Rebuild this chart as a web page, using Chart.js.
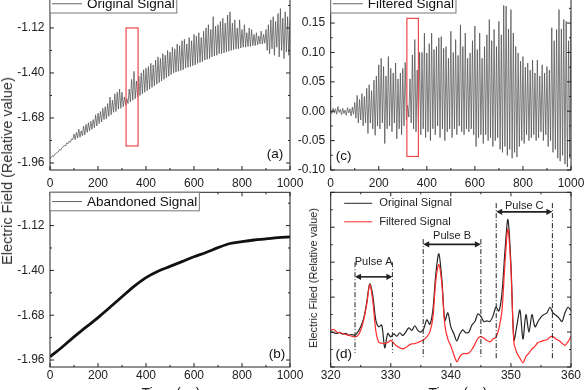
<!DOCTYPE html>
<html>
<head>
<meta charset="utf-8">
<script src="https://cdn.jsdelivr.net/npm/chart.js@4.4.0/dist/chart.umd.min.js"></script>
<style>
  body { margin: 0; background: #fff; }
  #wrap { position: relative; width: 585px; height: 390px; overflow: hidden; background: #fff;
          font-family: "Liberation Sans", Arial, sans-serif; color: #222; }
  #wrap canvas { position: absolute; }
  .ttl { position: absolute; white-space: nowrap; font-weight: 400; transform: translate(-50%, -50%); }
  .rot { transform: translate(-50%, -50%) rotate(-90deg); }
</style>
</head>
<body>
<div id="wrap">
  <canvas id="panelA" width="320" height="220" style="left:0;top:-30px"></canvas>
  <canvas id="panelC" width="345" height="220" style="left:260px;top:-30px"></canvas>
  <canvas id="panelB" width="320" height="220" style="left:0;top:170px"></canvas>
  <canvas id="panelD" width="345" height="220" style="left:260px;top:170px"></canvas>
  <div class="ttl rot" style="left:7px;top:171px;font-size:14.5px;color:#333">Electric Field (Relative value)</div>
  <div class="ttl rot" style="left:313px;top:278px;font-size:10.8px">Electric Filed (Relative value)</div>
  <div class="ttl" style="left:171px;top:393px;font-size:14px">Time (μs)</div>
  <div class="ttl" style="left:458px;top:393px;font-size:14px">Time (μs)</div>
</div>
<script>
document.addEventListener("DOMContentLoaded", () => {
    // sampling of the long records (a) and (c): one value every 5 µs, 0..1000
    const longStep = 5
    // sampling of the zoomed record (d): one value every 0.5 µs, 320..360
    const zoomStep = 0.5

    // (a) original signal
    const origSignal = [
        -1.93, -1.925, -1.915, -1.92, -1.905, -1.90, -1.895, -1.89, -1.875, -1.88,
        -1.865, -1.86, -1.85, -1.855, -1.835, -1.84, -1.825, -1.83, -1.81, -1.815, -1.78,
        -1.815, -1.77, -1.805, -1.75, -1.80, -1.76, -1.79, -1.73, -1.785, -1.72, -1.77, -1.71, -1.76, -1.70, -1.75, -1.69, -1.74, -1.66, -1.73, -1.65,
        -1.715, -1.64, -1.705, -1.62, -1.69, -1.61, -1.685, -1.59, -1.67, -1.55, -1.66, -1.57, -1.645, -1.53, -1.64, -1.52, -1.625, -1.50, -1.62, -1.52,
        -1.61, -1.55, -1.60, -1.56, -1.59, -1.50, -1.58, -1.44, -1.57, -1.39, -1.56, -1.45, -1.55, -1.42, -1.54, -1.40, -1.53, -1.38, -1.52, -1.37,
        -1.51, -1.36, -1.50, -1.34, -1.49, -1.35, -1.48, -1.32, -1.47, -1.30, -1.46, -1.31, -1.45, -1.28, -1.44, -1.29, -1.43, -1.26, -1.42, -1.27,
        -1.41, -1.24, -1.40, -1.25, -1.395, -1.22, -1.39, -1.23, -1.385, -1.20, -1.38, -1.19, -1.37, -1.22, -1.365, -1.18, -1.36, -1.20, -1.355, -1.16,
        -1.35, -1.17, -1.34, -1.15, -1.335, -1.18, -1.33, -1.14, -1.32, -1.12, -1.315, -1.10, -1.31, -1.13, -1.30, -1.05, -1.295, -1.11, -1.29, -1.10,
        -1.28, -1.08, -1.28, -1.06, -1.275, -1.09, -1.27, -1.04, -1.265, -1.02, -1.26, -1.09, -1.255, -1.07, -1.25, -1.12, -1.25, -1.07, -1.245, -1.13,
        -1.24, -1.10, -1.24, -1.15, -1.235, -1.12, -1.235, -1.13, -1.23, -1.16, -1.23, -1.15, -1.225, -1.17, -1.22, -1.14, -1.22, -1.16, -1.215, -1.13,
        -1.26, -1.10, -1.28, -1.07, -1.25, -1.05, -1.29, -1.08, -1.24, -1.03, -1.30, -1.00, -1.26, -1.06, -1.31, -1.02, -1.27, -1.05, -1.29, -1.07
    ]

    // (c) filtered signal
    const filtSignal = [
        0.002, -0.004, 0.005, -0.003, 0.004, -0.005, 0.008, -0.002, 0.003, -0.006,
        0.005, -0.004, 0.002, -0.007, 0.006, -0.003, 0.004, -0.008, 0.007, -0.005,
        0.015, -0.012, 0.027, -0.02, 0.02, -0.015, 0.03, -0.025, 0.025, -0.02, 0.039, -0.038, 0.045, -0.02, 0.035, -0.03, 0.053, -0.041, 0.06, -0.025,
        0.079, -0.03, 0.09, -0.02, 0.076, -0.055, 0.06, -0.03, 0.093, -0.025, 0.073, -0.035, 0.065, -0.02, 0.082, -0.047, 0.055, -0.03, 0.065, -0.04,
        0.073, -0.025, 0.083, -0.015, 0.01, -0.01, 0.055, -0.02, 0.096, -0.03, 0.122, -0.035, 0.07, -0.02, 0.1, -0.04, 0.1, -0.03, 0.133, -0.045,
        0.099, -0.035, 0.115, -0.05, 0.133, -0.03, 0.105, -0.04, 0.11, -0.025, 0.125, -0.045, 0.127, -0.03, 0.107, -0.05, 0.11, -0.035, 0.09, -0.03,
        0.136, -0.045, 0.1, -0.03, 0.122, -0.04, 0.095, -0.025, 0.147, -0.035, 0.11, -0.04, 0.133, -0.03, 0.09, -0.035, 0.099, -0.03, 0.12, -0.04,
        0.145, -0.06, 0.105, -0.045, 0.133, -0.04, 0.09, -0.055, 0.11, -0.04, 0.13, -0.05, 0.156, -0.045, 0.12, -0.06, 0.139, -0.05, 0.11, -0.045,
        0.153, -0.065, 0.13, -0.07, 0.18, -0.06, 0.179, -0.075, 0.14, -0.065, 0.173, -0.08, 0.133, -0.07, 0.11, -0.078, 0.099, -0.06, 0.085, -0.05,
        0.093, -0.055, 0.075, -0.04, 0.082, -0.05, 0.07, -0.045, 0.087, -0.04, 0.065, -0.05, 0.087, -0.045, 0.06, -0.035, 0.079, -0.05, 0.065, -0.04,
        0.076, -0.06, 0.07, -0.05, 0.142, -0.07, 0.12, -0.065, 0.139, -0.08, 0.173, -0.085, 0.14, -0.075, 0.156, -0.09, 0.153, -0.095, 0.12, -0.08,
        0.17
    ]

    // (b) abandoned (baseline) signal
    const abandonTimes = [0, 50, 100, 150, 200, 250, 300, 350, 400, 450, 500, 550, 600, 650, 700, 750, 800, 850, 900, 950, 1000]
    const abandonSignal = [-1.94, -1.88, -1.815, -1.755, -1.695, -1.63, -1.565, -1.50, -1.445, -1.405, -1.375,
        -1.345, -1.315, -1.288, -1.258, -1.232, -1.22, -1.21, -1.203, -1.195, -1.19]

    // (d) 320..360 µs window, relative units
    const zoomOrig = [
        1.01, 0.98, 0.96, 0.99, 0.94, 0.96, 0.91, 0.93, 0.91, 1.0,
        1.15, 1.4, 1.85, 2.38, 2.05, 1.35, 1.15, 1.2, 0.55, 0.96,
        0.86, 0.95, 0.88, 0.98, 0.9, 1.0, 1.12, 1.05, 1.18, 1.05,
        1.0, 1.1, 1.35, 1.22, 1.62, 2.67, 3.24, 2.5, 1.33, 1.55,
        1.15, 0.95, 0.75, 0.95, 1.06, 0.98, 1.0, 1.2, 1.3, 1.52,
        1.45, 1.3, 1.32, 1.3, 1.45, 1.71, 1.6, 2.1, 3.3, 4.22,
        2.95, 0.77, 1.2, 1.63, 0.8, 1.5, 1.0, 1.5, 1.15, 1.3,
        1.43, 1.5, 1.55, 1.71, 1.55, 1.48, 1.4, 1.3, 1.55, 1.71,
        1.62
    ]
    const zoomFilt = [
        1.05, 1.08, 1.0, 0.98, 0.96, 0.93, 0.91, 0.88, 0.86, 0.9,
        1.05, 1.35, 1.8, 2.36, 1.9, 1.05, 0.71, 0.68, 0.67, 0.7,
        0.76, 0.68, 0.6, 0.55, 0.52, 0.56, 0.62, 0.66, 0.67, 0.7,
        0.74, 0.78, 0.86, 1.0, 1.4, 2.48, 2.93, 2.38, 1.2, 0.8,
        0.6, 0.35, 0.15, 0.3, 0.38, 0.38, 0.4, 0.5, 0.65, 0.82,
        0.87, 0.82, 0.76, 0.72, 0.8, 0.85, 1.1, 1.6, 2.95, 3.95,
        2.8, 0.7, 0.4, 0.25, 0.12, 0.3, 0.4, 0.52, 0.59, 0.7,
        0.73, 0.76, 0.78, 0.86, 0.87, 0.8, 0.76, 0.68, 0.62, 0.72,
        0.87
    ]

    // axis ticks
    const timeTicks = [0, 200, 400, 600, 800, 1000]
    const timeMinor = [100, 300, 500, 700, 900]
    const fieldTicks = [-1.96, -1.68, -1.40, -1.12]
    const fieldMinor = [-1.82, -1.54, -1.26, -0.98]
    const filtTicks = [-0.10, -0.05, 0, 0.05, 0.10, 0.15]
    const filtMinor = [-0.075, -0.025, 0.025, 0.075, 0.125, 0.175]
    const zoomTicks = [320, 330, 340, 350, 360]
    const zoomMinor = [325, 335, 345, 355]
    const zoomYTicks = [0, 1, 2, 3, 4, 5]
    const zoomYMinor = [0.5, 1.5, 2.5, 3.5, 4.5]

    // pulse annotations in (d)
    const pulseNames = ["Pulse A", "Pulse B", "Pulse C"]
    const pulseStart = [324.05, 335.4, 347.55]
    const pulseEnd = [330.27, 345.0, 356.9]
    const pulseArrow = [2.58, 3.51, 4.44]
    const pulseText = [3.0, 3.75, 4.62]
    const pulseTop = [3.0, 3.66, 4.69]
    const pulseBottom = [0.4, 0.29, 0.2]

    // red window marking 320..360 µs in (a) and (c)
    const windowA = { x0: 317, x1: 367, y0: -1.854, y1: -1.12 }
    const windowC = { x0: 317, x1: 365, y0: -0.077, y1: 0.158 }

    const FONT = '"Liberation Sans", Arial, sans-serif'
    Chart.defaults.font.family = FONT
    Chart.defaults.color = "#222"

    const sampled = (start, step, vals) => vals.map((v, i) => ({ x: start + i * step, y: v }))
    const paired = (xs, ys) => xs.map((x, i) => ({ x: x, y: ys[i] }))

    // Origin-style frame: box, inward ticks on 4 sides, legend, panel tag, extras
    const originFrame = {
        id: "originFrame",
        afterDraw(chart, args, o) {
            const ctx = chart.ctx
            const a = chart.chartArea
            const xs = chart.scales.x
            const ys = chart.scales.y
            ctx.save()

            if (o.window) {
                const w = o.window
                const x0 = xs.getPixelForValue(w.x0), x1 = xs.getPixelForValue(w.x1)
                const y0 = ys.getPixelForValue(w.y0), y1 = ys.getPixelForValue(w.y1)
                ctx.strokeStyle = "#f04848"
                ctx.lineWidth = 1.2
                ctx.strokeRect(x0, y1, x1 - x0, y0 - y1)
            }

            if (o.pulses) {
                ctx.strokeStyle = "#222"
                ctx.fillStyle = "#222"
                ctx.font = "11px " + FONT
                ctx.textAlign = "center"
                ctx.textBaseline = "middle"
                pulseNames.forEach((name, i) => {
                    const xl = xs.getPixelForValue(pulseStart[i])
                    const xr = xs.getPixelForValue(pulseEnd[i])
                    const yt = ys.getPixelForValue(pulseTop[i])
                    const yb = ys.getPixelForValue(pulseBottom[i])
                    const ya = ys.getPixelForValue(pulseArrow[i])
                    ctx.lineWidth = 1
                    ctx.setLineDash([5, 2, 1, 2])
                    ctx.beginPath()
                    ctx.moveTo(xl, yt); ctx.lineTo(xl, yb)
                    ctx.moveTo(xr, yt); ctx.lineTo(xr, yb)
                    ctx.stroke()
                    ctx.setLineDash([])
                    ctx.lineWidth = 1.6
                    ctx.beginPath()
                    ctx.moveTo(xl + 3, ya); ctx.lineTo(xr - 3, ya)
                    ctx.stroke()
                    ctx.beginPath()
                    ctx.moveTo(xl, ya); ctx.lineTo(xl + 6, ya - 3.2); ctx.lineTo(xl + 6, ya + 3.2); ctx.closePath()
                    ctx.moveTo(xr, ya); ctx.lineTo(xr - 6, ya - 3.2); ctx.lineTo(xr - 6, ya + 3.2); ctx.closePath()
                    ctx.fill()
                    ctx.fillText(name, (xl + xr) / 2, ys.getPixelForValue(pulseText[i]))
                })
            }

            // frame
            ctx.strokeStyle = "#222"
            ctx.lineWidth = 1
            ctx.strokeRect(a.left, a.top, a.right - a.left, a.bottom - a.top)

            // inward ticks
            const xTick = (vals, len) => vals.forEach(v => {
                const px = xs.getPixelForValue(v)
                ctx.moveTo(px, a.bottom); ctx.lineTo(px, a.bottom - len)
                ctx.moveTo(px, a.top); ctx.lineTo(px, a.top + len)
            })
            const yTick = (vals, len) => vals.forEach(v => {
                const py = ys.getPixelForValue(v)
                ctx.moveTo(a.left, py); ctx.lineTo(a.left + len, py)
                ctx.moveTo(a.right, py); ctx.lineTo(a.right - len, py)
            })
            ctx.beginPath()
            xTick(o.xMajor, 4); xTick(o.xMinor, 2)
            yTick(o.yMajor, 4); yTick(o.yMinor, 2)
            ctx.stroke()

            // legend
            const sets = chart.data.datasets
            if (o.legend === "box") {
                ctx.font = "13.5px " + FONT
                const tw = ctx.measureText(sets[0].label).width
                const w = 37 + tw + 2, h = 18.5
                ctx.fillStyle = "#fff"
                ctx.fillRect(a.left, a.top, w, h)
                ctx.strokeStyle = "#777"
                ctx.lineWidth = 1
                ctx.strokeRect(a.left, a.top, w, h)
                ctx.strokeStyle = "#666"
                ctx.beginPath()
                ctx.moveTo(a.left + 2, a.top + h / 2); ctx.lineTo(a.left + 32, a.top + h / 2)
                ctx.stroke()
                ctx.fillStyle = "#111"
                ctx.textAlign = "left"
                ctx.textBaseline = "middle"
                ctx.fillText(sets[0].label, a.left + 37, a.top + h / 2 + 0.5)
            } else if (o.legend === "plain") {
                ctx.font = "11.2px " + FONT
                ctx.textAlign = "left"
                ctx.textBaseline = "middle"
                sets.forEach((ds, i) => {
                    const ly = a.top + 11 + i * 18.5
                    ctx.strokeStyle = ds.borderColor
                    ctx.lineWidth = 1
                    ctx.beginPath()
                    ctx.moveTo(a.left + 13.5, ly); ctx.lineTo(a.left + 41.5, ly)
                    ctx.stroke()
                    ctx.fillStyle = "#222"
                    ctx.fillText(ds.label, a.left + 48.5, ly)
                })
            }

            // panel tag
            ctx.font = "13.5px " + FONT
            ctx.fillStyle = "#111"
            ctx.textAlign = "center"
            ctx.textBaseline = "middle"
            const tx = o.tag.fromLeft ? a.left + o.tag.dx : a.right - o.tag.dx
            ctx.fillText(o.tag.text, tx, a.bottom - o.tag.dy)
            ctx.restore()
        }
    }

    const makePanel = (id, datasets, cfg) => new Chart(document.getElementById(id), {
        type: "line",
        data: { datasets: datasets },
        options: {
            responsive: false,
            animation: false,
            devicePixelRatio: 1,
            layout: { padding: cfg.padding },
            elements: { point: { radius: 0 }, line: { fill: false } },
            plugins: { legend: { display: false }, tooltip: { enabled: false }, originFrame: cfg.frame },
            scales: {
                x: {
                    type: "linear", min: cfg.xMin, max: cfg.xMax,
                    afterBuildTicks: s => { s.ticks = cfg.frame.xMajor.map(v => ({ value: v })) },
                    afterFit: s => { s.height = cfg.xHeight },
                    grid: { display: false, drawTicks: false },
                    border: { display: false },
                    ticks: { padding: cfg.xPad, font: { size: 12 }, maxRotation: 0, autoSkip: false, callback: v => String(v) }
                },
                y: {
                    type: "linear", min: cfg.yMin, max: cfg.yMax,
                    afterBuildTicks: s => { s.ticks = cfg.frame.yMajor.map(v => ({ value: v })) },
                    afterFit: s => { s.width = cfg.yWidth },
                    grid: { display: false, drawTicks: false },
                    border: { display: false },
                    ticks: { display: cfg.yLabels, padding: 5.5, font: { size: 12 }, autoSkip: false, callback: v => v.toFixed(2) }
                }
            }
        },
        plugins: [originFrame]
    })

    const signalLine = (label, data, color, width) => ({
        label: label, data: data, borderColor: color, borderWidth: width, tension: 0, pointRadius: 0
    })

    makePanel("panelA", [signalLine("Original Signal", sampled(0, longStep, origSignal), "#4a4a4a", 0.7)], {
        padding: { top: 24.5, right: 30, left: 0, bottom: 0 },
        xMin: 0, xMax: 1000, yMin: -2.0036, yMax: -0.912, xHeight: 20, xPad: 6, yWidth: 50, yLabels: true,
        frame: { xMajor: timeTicks, xMinor: timeMinor, yMajor: fieldTicks, yMinor: fieldMinor,
                 legend: "box", window: windowA, tag: { text: "(a)", dx: 15, dy: 16 } }
    })

    makePanel("panelC", [signalLine("Filtered Signal", sampled(0, longStep, filtSignal), "#4a4a4a", 0.7)], {
        padding: { top: 24.5, right: 34, left: 0, bottom: 0 },
        xMin: 0, xMax: 1000, yMin: -0.1, yMax: 0.1986, xHeight: 20, xPad: 6, yWidth: 70.7, yLabels: true,
        frame: { xMajor: timeTicks, xMinor: timeMinor, yMajor: filtTicks, yMinor: filtMinor,
                 legend: "box", window: windowC, tag: { text: "(c)", fromLeft: true, dx: 13, dy: 14 } }
    })

    const abandonLine = signalLine("Abandoned Signal", paired(abandonTimes, abandonSignal), "#111", 2.8)
    abandonLine.cubicInterpolationMode = "monotone"
    makePanel("panelB", [abandonLine], {
        padding: { top: 22.3, right: 30, left: 0, bottom: 0 },
        xMin: 0, xMax: 1000, yMin: -2.0036, yMax: -0.912, xHeight: 23, xPad: 1.5, yWidth: 50, yLabels: true,
        frame: { xMajor: timeTicks, xMinor: timeMinor, yMajor: fieldTicks, yMinor: fieldMinor,
                 legend: "box", tag: { text: "(b)", dx: 13, dy: 13 } }
    })

    const origD = signalLine("Original Signal", sampled(320, zoomStep, zoomOrig), "#262626", 1.2)
    const filtD = signalLine("Filtered Signal", sampled(320, zoomStep, zoomFilt), "#ff2a2a", 1.2)
    origD.tension = 0.3; origD.order = 2
    filtD.tension = 0.3; filtD.order = 1
    makePanel("panelD", [origD, filtD], {
        padding: { top: 22.3, right: 34, left: 0, bottom: 0 },
        xMin: 320, xMax: 360, yMin: 0, yMax: 5, xHeight: 23, xPad: 1.5, yWidth: 70.7, yLabels: false,
        frame: { xMajor: zoomTicks, xMinor: zoomMinor, yMajor: zoomYTicks, yMinor: zoomYMinor,
                 legend: "plain", pulses: true, tag: { text: "(d)", fromLeft: true, dx: 13, dy: 13 } }
    })
})
</script>
</body>
</html>
